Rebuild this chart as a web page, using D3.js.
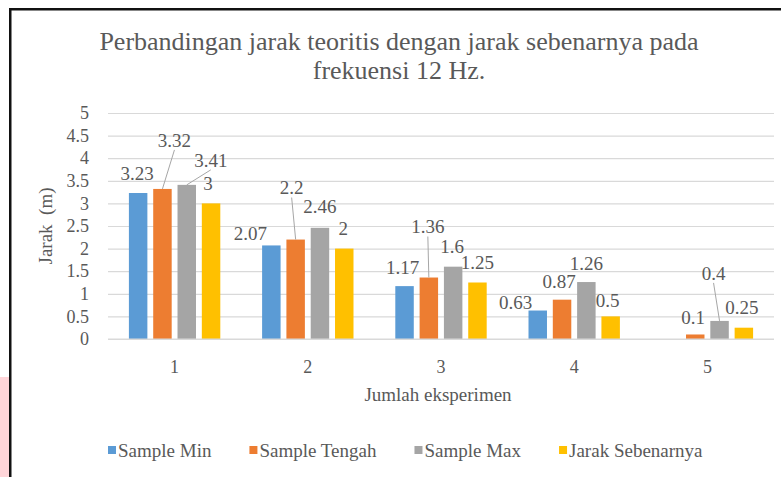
<!DOCTYPE html>
<html>
<head>
<meta charset="utf-8">
<script src="https://cdn.jsdelivr.net/npm/d3@7"></script>
<style>
  body { margin: 0; background: #fff; }
  svg text { font-family: "Liberation Serif", "Times New Roman", serif; }
</style>
</head>
<body>
<svg width="781" height="477"></svg>
<script>
// data
const categories = ["1", "2", "3", "4", "5"];
const seriesNames = ["Sample Min", "Sample Tengah", "Sample Max", "Jarak Sebenarnya"];
const sampleMin = [3.23, 2.07, 1.17, 0.63, 0];
const sampleTengah = [3.32, 2.2, 1.36, 0.87, 0.1];
const sampleMax = [3.41, 2.46, 1.6, 1.26, 0.4];
const jarakSebenarnya = [3, 2, 1.25, 0.5, 0.25];
const yTicks = [0, 0.5, 1, 1.5, 2, 2.5, 3, 3.5, 4, 4.5, 5];

// label nudges (px from bar top centre), hand placed like the excel chart
const labelNudge = [
  [[-1, -20], [12, -49], [24, -25], [-3, -20]],
  [[-21, -12], [-4, -52], [0, -21], [-1, -20]],
  [[-2, -19], [-1, -51], [-1, -20], [0, -20]],
  [[-22, -8], [-3, -18], [0, -19], [-3, -16]],
  [null, [-2, -17], [-6, -48], [-2, -20]]
];
const leaders = { "0-1": true, "0-2": true, "1-1": true, "2-1": true, "4-2": true };

const colors = ["#5B9BD5", "#ED7D31", "#A5A5A5", "#FFC000"];
const seriesValues = [sampleMin, sampleTengah, sampleMax, jarakSebenarnya];

const svg = d3.select("svg");
const textCol = "#595959";
const serif = "Liberation Serif";

// frame bits from the screenshot
svg.append("rect").attr("x", 0).attr("y", 377).attr("width", 9).attr("height", 100).attr("fill", "#FFD5D9");
svg.append("rect").attr("x", 9).attr("y", 8).attr("width", 772).attr("height", 2.5).attr("fill", "#111");
svg.append("rect").attr("x", 9).attr("y", 8).attr("width", 2.5).attr("height", 469).attr("fill", "#111");

const margin = { left: 108, right: 774, top: 113, bottom: 339 };

const x0 = d3.scaleBand().domain(categories).range([margin.left, margin.right]);
const x1 = d3.scaleBand().domain(seriesNames).range([0, x0.bandwidth()])
  .paddingInner(0.24).paddingOuter(0.86);
const y = d3.scaleLinear().domain([0, 5]).range([margin.bottom, margin.top]);

// gridlines + y labels
const yAxis = svg.append("g")
  .attr("transform", `translate(${margin.left},0)`)
  .call(d3.axisLeft(y).tickValues(yTicks).tickSize(-(margin.right - margin.left)).tickPadding(19).tickFormat(d => String(d)));
yAxis.attr("font-family", serif).attr("font-size", 18);
yAxis.select(".domain").remove();
yAxis.selectAll("line").attr("stroke", "#D9D9D9").attr("stroke-width", 1.2);
yAxis.selectAll("text").attr("fill", textCol);

// bars
const groups = svg.append("g").selectAll("g")
  .data(categories)
  .join("g")
  .attr("transform", d => `translate(${x0(d)},0)`);

groups.selectAll("rect")
  .data((c, ci) => seriesNames.map((s, si) => ({ s, si, ci, v: seriesValues[si][ci] })))
  .join("rect")
  .attr("x", d => x1(d.s))
  .attr("width", x1.bandwidth())
  .attr("y", d => y(d.v))
  .attr("height", d => y(0) - y(d.v))
  .attr("fill", d => colors[d.si]);

// data labels
const labels = [];
categories.forEach((c, ci) => {
  seriesNames.forEach((s, si) => {
    const nudge = labelNudge[ci][si];
    if (!nudge) return;
    const v = seriesValues[si][ci];
    const bx = x0(c) + x1(s) + x1.bandwidth() / 2;
    const by = y(v);
    labels.push({ v, bx, by, lx: bx + nudge[0], ly: by + nudge[1], leader: leaders[ci + "-" + si] });
  });
});

svg.append("g").selectAll("line")
  .data(labels.filter(d => d.leader))
  .join("line")
  .attr("x1", d => d.lx)
  .attr("y1", d => d.ly + 10)
  .attr("x2", d => d.bx)
  .attr("y2", d => d.by)
  .attr("stroke", "#A6A6A6")
  .attr("stroke-width", 1);

svg.append("g").selectAll("text")
  .data(labels)
  .join("text")
  .attr("x", d => d.lx)
  .attr("y", d => d.ly)
  .attr("dy", "0.35em")
  .attr("text-anchor", "middle")
  .attr("fill", textCol)
  .attr("font-family", serif)
  .attr("font-size", 19)
  .text(d => String(d.v));

// x axis labels
svg.append("line")
  .attr("x1", margin.left).attr("x2", margin.right)
  .attr("y1", y(0)).attr("y2", y(0))
  .attr("stroke", "#D9D9D9").attr("stroke-width", 1.2);

svg.append("g").selectAll("text")
  .data(categories)
  .join("text")
  .attr("x", d => x0(d) + x0.bandwidth() / 2)
  .attr("y", 367)
  .attr("dy", "0.35em")
  .attr("text-anchor", "middle")
  .attr("fill", textCol)
  .attr("font-family", serif)
  .attr("font-size", 18)
  .text(d => d);

// axis titles
svg.append("text")
  .attr("x", 438).attr("y", 394)
  .attr("dy", "0.35em")
  .attr("text-anchor", "middle")
  .attr("fill", textCol)
  .attr("font-family", serif)
  .attr("font-size", 19)
  .text("Jumlah eksperimen");

svg.append("text")
  .attr("transform", "translate(45,226)rotate(-90)")
  .attr("dy", "0.35em")
  .attr("text-anchor", "middle")
  .attr("fill", textCol)
  .attr("font-family", serif)
  .attr("font-size", 19)
  .text("Jarak\u00a0 (m)");

// title
const title = svg.append("text")
  .attr("text-anchor", "middle")
  .attr("fill", textCol)
  .attr("font-family", serif)
  .attr("font-size", 26);
title.append("tspan").attr("x", 399).attr("y", 50).text("Perbandingan jarak teoritis dengan jarak sebenarnya pada");
title.append("tspan").attr("x", 399).attr("y", 79).text("frekuensi 12 Hz.");

// legend
const legend = svg.append("g").attr("transform", "translate(108,450)");
let lx = 0;
seriesNames.forEach((s, i) => {
  const g = legend.append("g").attr("transform", `translate(${lx},0)`);
  g.append("rect").attr("x", 0).attr("y", -4).attr("width", 8).attr("height", 8).attr("fill", colors[i]);
  const t = g.append("text")
    .attr("x", 10).attr("dy", "0.35em")
    .attr("fill", textCol)
    .attr("font-family", serif)
    .attr("font-size", 19)
    .text(s);
  lx += 10 + t.node().getComputedTextLength() + 38;
});
</script>
</body>
</html>
